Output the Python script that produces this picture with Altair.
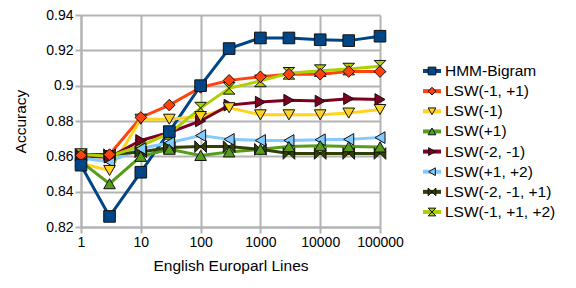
import altair as alt
import pandas as pd

xs = [1, 3, 10, 30, 100, 300, 1000, 3000, 10000, 30000, 100000]
series_names = ["HMM-Bigram", "LSW(-1, +1)", "LSW(-1)", "LSW(+1)", "LSW(-2, -1)",
                "LSW(+1, +2)", "LSW(-2, -1, +1)", "LSW(-1, +1, +2)"]
hmm = [0.855, 0.826, 0.851, 0.874, 0.900, 0.921, 0.927, 0.927, 0.926, 0.9255, 0.928]
lsw_m1p1 = [0.8605, 0.861, 0.882, 0.889, 0.899, 0.903, 0.905, 0.9065, 0.9065, 0.908, 0.908]
lsw_m1 = [0.856, 0.852, 0.881, 0.881, 0.8825, 0.8875, 0.8835, 0.8835, 0.8835, 0.8845, 0.8865]
lsw_p1 = [0.857, 0.8445, 0.860, 0.864, 0.8605, 0.8625, 0.864, 0.8655, 0.866, 0.8655, 0.8653]
lsw_m2m1 = [0.860, 0.8595, 0.869, 0.8735, 0.880, 0.889, 0.8907, 0.8918, 0.8913, 0.8926, 0.8922]
lsw_p1p2 = [0.859, 0.857, 0.8644, 0.8677, 0.8718, 0.8696, 0.869, 0.869, 0.8694, 0.8696, 0.8706]
lsw_m2m1p1 = [0.861, 0.861, 0.8625, 0.865, 0.8655, 0.8655, 0.864, 0.8616, 0.8616, 0.8616, 0.8616]
lsw_m1p1p2 = [0.861, 0.860, 0.866, 0.873, 0.8873, 0.8985, 0.9027, 0.907, 0.9085, 0.9094, 0.911]
all_values = [hmm, lsw_m1p1, lsw_m1, lsw_p1, lsw_m2m1, lsw_p1p2, lsw_m2m1p1, lsw_m1p1p2]

colors = ["#004586", "#ff420e", "#ffd320", "#579d1c", "#7e0021", "#83caff", "#314004", "#aecf00"]
bowtie = "M-1,-1L1,1L1,-1L-1,1Z"
hourglass = "M-1,-1L1,-1L-1,1L1,1Z"
shapes = ["square", "diamond", "triangle-down", "triangle-up", "triangle-right",
          "triangle-left", bowtie, hourglass]

rows = []
for i, (name, vals) in enumerate(zip(series_names, all_values)):
    for x, v in zip(xs, vals):
        rows.append({"series": name, "x": x, "acc": v, "ord": -i})
df = pd.DataFrame(rows)
legend_df = pd.DataFrame({"series": series_names})

FONT = "Liberation Sans"
color_scale = alt.Scale(domain=series_names, range=colors)
shape_scale = alt.Scale(domain=series_names, range=shapes)

xscale = alt.Scale(type="log", domain=[1, 100000], nice=False)
yscale = alt.Scale(domain=[0.82, 0.94], nice=False, zero=False)
xenc = alt.X("x:Q", scale=xscale,
             axis=alt.Axis(title="English Europarl Lines", values=[1, 10, 100, 1000, 10000, 100000],
                           format="d", labelFlush=False, labelOverlap=False))
yenc = alt.Y("acc:Q", scale=yscale,
             axis=alt.Axis(title="Accuracy", values=[0.82, 0.84, 0.86, 0.88, 0.9, 0.92, 0.94],
                           format=".2~f"))

base = alt.Chart(df)
lines = base.mark_line(strokeWidth=3).encode(
    x=xenc, y=yenc,
    color=alt.Color("series:N", scale=color_scale, legend=None),
    detail="series:N",
)
points = base.mark_point(filled=True, size=135, stroke="#111", strokeWidth=1, opacity=1).encode(
    x=alt.X("x:Q", scale=xscale, axis=None),
    y=alt.Y("acc:Q", scale=yscale, axis=None),
    fill=alt.Fill("series:N", scale=color_scale, legend=None),
    shape=alt.Shape("series:N", scale=shape_scale, legend=None),
    order=alt.Order("ord:Q"),
)

ly = alt.Y("series:N", scale=alt.Scale(type="point", domain=series_names, range=[56, 197], padding=0),
           axis=None)
lbase = alt.Chart(legend_df)
leg_rule = lbase.mark_rule(strokeWidth=4).encode(
    y=ly, x=alt.value(342), x2=alt.value(360),
    color=alt.Color("series:N", scale=color_scale, legend=None),
)
leg_pt = lbase.mark_point(filled=True, size=60, stroke="#111", strokeWidth=1, opacity=1).encode(
    y=ly, x=alt.value(351),
    fill=alt.Fill("series:N", scale=color_scale, legend=None),
    shape=alt.Shape("series:N", scale=shape_scale, legend=None),
)
leg_txt = lbase.mark_text(align="left", baseline="middle", font=FONT, fontSize=15.5, color="#000").encode(
    y=ly, x=alt.value(364), text="series:N",
)

chart = alt.layer(lines, points, leg_rule, leg_pt, leg_txt).resolve_scale(
    x="independent", y="independent"
).properties(
    width=299, height=212,
    autosize=alt.AutoSizeParams(type="none"),
    padding={"left": 73, "top": 7, "right": 188, "bottom": 53},
).configure_view(stroke=None).configure_axis(
    grid=True, gridColor="#b3b3b3", gridWidth=2,
    domainColor="#b3b3b3", domainWidth=2,
    tickColor="#b3b3b3", tickSize=6, tickWidth=2,
    labelFont=FONT, labelFontSize=14, labelColor="#000", labelPadding=2,
    titleFont=FONT, titleFontSize=15.5, titleColor="#000", titleFontWeight="normal",
).configure_axisX(titlePadding=9).configure_axisY(titlePadding=17)

chart.save("out.html", embed_options={"renderer": "svg", "actions": False})
